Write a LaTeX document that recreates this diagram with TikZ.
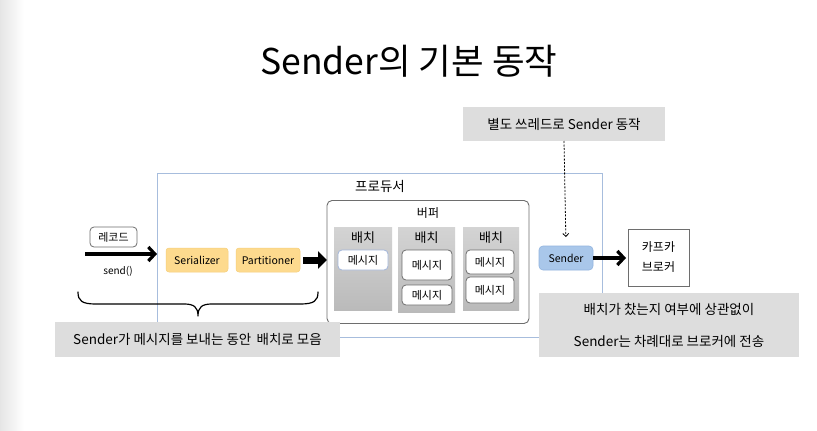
\documentclass[tikz,border=0pt]{standalone}
\usepackage{fontspec}
\setmainfont{Noto Sans CJK KR}
\usetikzlibrary{arrows.meta}
\definecolor{prodblue}{HTML}{A7BDDD}
\definecolor{serfill}{HTML}{FDDA8E}
\definecolor{serdraw}{HTML}{F6CF7C}
\definecolor{sndfill}{HTML}{A9C7EA}
\definecolor{snddraw}{HTML}{93B5DF}
\definecolor{notegray}{HTML}{DDDDDD}
\definecolor{boxline}{HTML}{6E6E6E}
\definecolor{msgblue}{HTML}{A3B6DA}
\begin{document}
\begin{tikzpicture}[x=1pt,y=-1pt,
  every node/.style={inner sep=0pt, outer sep=0pt, text=black},
  note/.style={fill=notegray, draw=none, font=\fontsize{13.5}{32}\selectfont, align=center},
  orange/.style={fill=serfill, draw=serdraw, line width=0.5pt, rounded corners=3pt, font=\fontsize{10.5}{12}\selectfont},
  batchbox/.style={draw=none, top color=black!17, bottom color=black!27},
  msg/.style={fill=white, draw=boxline, line width=0.8pt, rounded corners=4pt, font=\fontsize{11}{13}\selectfont},
  lbl/.style={font=\fontsize{13}{14}\selectfont},
  thickarrow/.style={line width=3.2pt, -{Straight Barb[length=6.5pt,width=14pt]}}
]
\useasboundingbox (0,0) rectangle (817,431);
\fill[white] (0,0) rectangle (817,431);
\shade[left color=black!10, right color=white, draw=none] (0,0) rectangle (24,431);

% title
\node[font=\fontsize{35.5}{40}\selectfont] (title) at (409,61) {Sender의 기본 동작};

% producer
\node[draw=prodblue, line width=0.8pt, minimum width=445, minimum height=164] (producer) at (379.5,255) {};
\node[font=\fontsize{13.5}{15}\selectfont] (prodlbl) at (380,186) {프로듀서};

% record & send
\node[draw=boxline, line width=0.8pt, rounded corners=4pt, minimum width=47, minimum height=20, font=\fontsize{11}{13}\selectfont] (record) at (113.5,237) {레코드};
\coordinate (sendstart) at (85,254);
\draw[thickarrow] (sendstart) -- (sendstart -| producer.west);
\node[font=\fontsize{10}{12}\selectfont] (sendlbl) at (118,271) {send()};

% serializer, partitioner
\node[orange, minimum width=62, minimum height=24] (serializer) at (197,260) {Serializer};
\node[orange, minimum width=64, minimum height=24] (partitioner) at (268,260) {Partitioner};

% buffer
\node[draw=boxline, line width=0.9pt, rounded corners=5pt, fill=white, minimum width=202, minimum height=123] (buffer) at (428,262) {};
\node[font=\fontsize{12}{14}\selectfont] (buflbl) at (428,213) {버퍼};

\draw[line width=7pt, -{Triangle[length=9pt,width=17pt]}, shorten <=3pt] (partitioner.east) -- (partitioner.east -| buffer.west);

% batches
\node[batchbox, minimum width=58, minimum height=83] (batch1) at (363,268.5) {};
\node[lbl] (b1lbl) at (363,238) {배치};
\node[msg, draw=msgblue, minimum width=50, minimum height=20] (m11) at (363,260) {메시지};

\node[batchbox, minimum width=57, minimum height=85] (batch2) at (426.5,269.5) {};
\node[lbl] (b2lbl) at (426.5,238) {배치};
\node[msg, minimum width=50, minimum height=30] (m21) at (427,265) {메시지};
\node[msg, minimum width=50, minimum height=20] (m22) at (427,295) {메시지};

\node[batchbox, minimum width=56, minimum height=83] (batch3) at (491,268.5) {};
\node[lbl] (b3lbl) at (491,238) {배치};
\node[msg, minimum width=48, minimum height=24] (m31) at (490,262) {메시지};
\node[msg, minimum width=48, minimum height=26] (m32) at (490,290) {메시지};

% sender & broker
\node[fill=sndfill, draw=snddraw, line width=0.6pt, rounded corners=4pt, minimum width=54, minimum height=24, font=\fontsize{10.5}{12}\selectfont] (sender) at (566,258) {Sender};
\node[fill=white, draw=boxline, line width=0.8pt, minimum width=61, minimum height=57, align=center, font=\fontsize{12}{20}\selectfont] (broker) at (658.5,257.5) {카프카\\브로커};
\draw[thickarrow, shorten >=2pt] (sender.east) -- (sender.east -| broker.west);

% notes
\node[note, minimum width=202, minimum height=34] (thread) at (564,124) {별도 쓰레드로 Sender 동작};
\draw[dashed, dash pattern=on 2pt off 1.5pt, line width=0.8pt, -{Straight Barb[length=3pt,width=6pt]}, shorten >=9pt] (thread.south) -- (sender.north);

\node[note, minimum width=260, minimum height=64] (noteright) at (669,325) {배치가 찼는지 여부에 상관없이\\Sender는 차례대로 브로커에 전송};
\node[note, minimum width=285, minimum height=35] (noteleft) at (197.5,339.5) {Sender가 메시지를 보내는 동안 \,배치로 모음};

% brace
\coordinate (brL) at (78,292);
\coordinate (brR) at (318,292);
\coordinate (brT) at (198,316);
\draw[line width=1.2pt, line cap=round]
  (brL) .. controls (78,301) and (82,304) .. (96,304)
  -- (184,304) .. controls (194,304) and (198,307) .. (brT)
  (brT) .. controls (198,307) and (202,304) .. (212,304)
  -- (300,304) .. controls (314,304) and (318,301) .. (brR);
\end{tikzpicture}
\end{document}
